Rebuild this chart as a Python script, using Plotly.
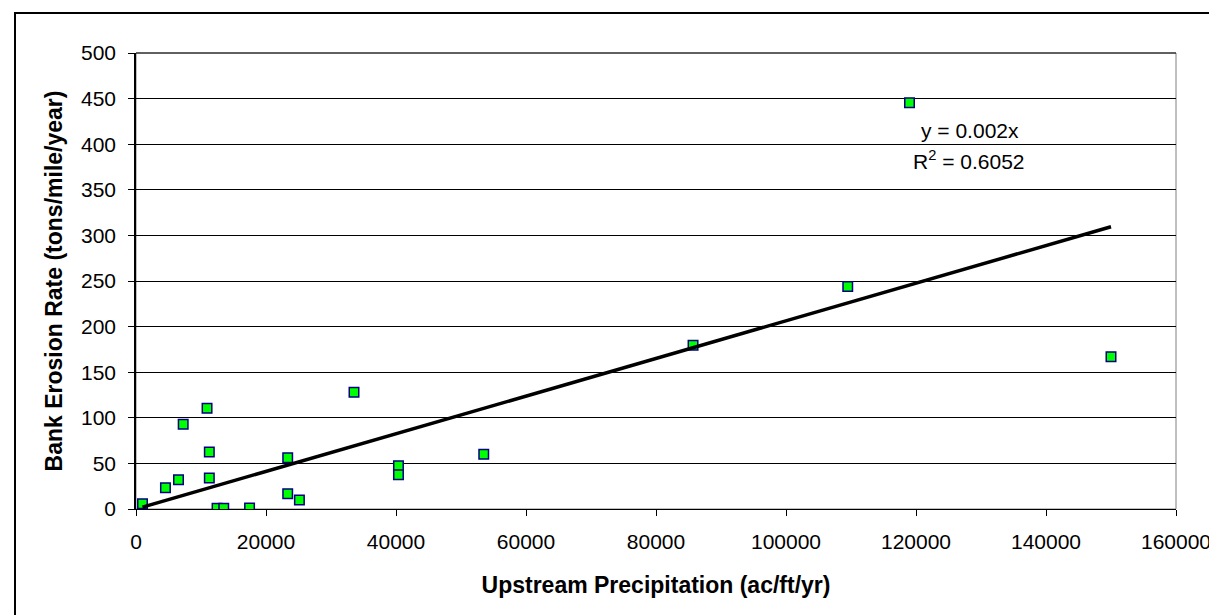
import numpy as np
import plotly.graph_objects as go

# Data
precip = [1000, 4530, 6540, 7260, 10930, 11280, 11280, 12470, 13500, 17470,
          23340, 23340, 25140, 33540, 40380, 40380, 53500, 85700, 109500, 119000, 150000]
erosion = [5.8, 23.4, 32.1, 92.9, 110.4, 62.5, 34.0, 0.8, 0.8, 1.0,
           56.3, 16.8, 9.9, 128.0, 47.5, 37.6, 60.0, 179.5, 244.0, 445.5, 167.0]
x_ticks = [0, 20000, 40000, 60000, 80000, 100000, 120000, 140000, 160000]
y_ticks = [0, 50, 100, 150, 200, 250, 300, 350, 400, 450, 500]
eq_text = "y = 0.002x"
r2_text = "R<sup>2</sup> = 0.6052"

x = np.array(precip, dtype=float)
y = np.array(erosion, dtype=float)
slope = float((x * y).sum() / (x * x).sum())  # linear trend through origin
trend_x = [x.min(), x.max()]
trend_y = [slope * v for v in trend_x]

FONT = "Liberation Sans, Arial, sans-serif"
TICK = 21
TITLE = 23

fig = go.Figure()
fig.add_trace(go.Scatter(
    x=precip, y=erosion, mode="markers",
    marker=dict(symbol="square", size=9.5, color="#00FF00",
                line=dict(color="#000080", width=1.5)),
    showlegend=False, hoverinfo="x+y"))
fig.add_trace(go.Scatter(
    x=trend_x, y=trend_y, mode="lines",
    line=dict(color="black", width=3.5),
    showlegend=False, hoverinfo="skip"))

W, H = 1217, 615
L, R, T, B = 128, 49, 45, 114
pw, ph = W - L - R, H - T - B

def px_x(p):
    return (p - L) / pw

def px_y(p):
    return (H - B - p) / ph

fig.update_layout(
    width=W, height=H,
    margin=dict(l=L, r=R, t=T, b=B, pad=0),
    paper_bgcolor="white", plot_bgcolor="white",
    font=dict(family=FONT, size=TICK, color="black"),
    xaxis=dict(range=[0, 160000], tickvals=x_ticks, ticktext=[str(v) for v in x_ticks],
               showgrid=False, zeroline=False, showline=True, linecolor="black", linewidth=1,
               ticks="outside", ticklen=6, tickcolor="black", tickwidth=1,
               ticklabelstandoff=8,
               tickfont=dict(size=TICK, family=FONT),
               title=dict(text="<b>Upstream Precipitation (ac/ft/yr)</b>",
                          font=dict(size=TITLE, family=FONT), standoff=24)),
    yaxis=dict(range=[0, 500], tickvals=y_ticks, ticktext=[str(v) for v in y_ticks],
               showgrid=True, gridcolor="black", gridwidth=1,
               zeroline=False, showline=True, linecolor="black", linewidth=1.5,
               ticks="outside", ticklen=6, tickcolor="black", tickwidth=1,
               ticklabelstandoff=8,
               tickfont=dict(size=TICK, family=FONT),
               title=dict(text="<b>Bank Erosion Rate (tons/mile/year)</b>",
                          font=dict(size=TITLE, family=FONT), standoff=12)),
    shapes=[
        dict(type="rect", xref="paper", yref="paper", x0=0, y0=0, x1=1, y1=1,
             line=dict(color="#808080", width=1), layer="below"),
        dict(type="line", xref="paper", yref="paper", x0=0, y0=1, x1=1, y1=1,
             line=dict(color="black", width=1)),
        dict(type="rect", xref="paper", yref="paper",
             x0=px_x(7), y0=px_y(625), x1=px_x(1230), y1=px_y(5),
             line=dict(color="black", width=2)),
    ],
    annotations=[
        dict(x=px_x(962), y=px_y(123), xref="paper", yref="paper", text=eq_text,
             xanchor="center", yanchor="middle",
             showarrow=False, font=dict(size=TICK, family=FONT)),
        dict(x=px_x(961), y=px_y(152), xref="paper", yref="paper", text=r2_text,
             xanchor="center", yanchor="middle",
             showarrow=False, font=dict(size=TICK, family=FONT)),
    ],
)

fig.write_html("out.html")
